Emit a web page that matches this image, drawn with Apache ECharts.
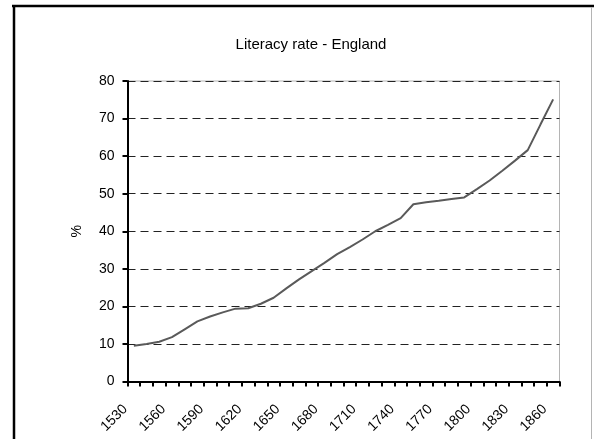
<!DOCTYPE html>
<html>
<head>
<meta charset="utf-8">
<script src="https://cdn.jsdelivr.net/npm/echarts@6/dist/echarts.min.js"></script>
<style>
  html, body { margin: 0; padding: 0; background: #fff; }
  #chart { width: 594px; height: 439px; }
</style>
</head>
<body>
<div id="chart"></div>
<script>
// Decades from 1530 to 1860
const decades = ['1530','1540','1550','1560','1570','1580','1590','1600','1610','1620',
  '1630','1640','1650','1660','1670','1680','1690','1700','1710','1720',
  '1730','1740','1750','1760','1770','1780','1790','1800','1810','1820',
  '1830','1840','1850','1860'];

// Share of the population able to read and write, in %
const literacy = [9.5, 10.0, 10.6, 11.8, 13.9, 16.0, 17.3, 18.4, 19.4, 19.5,
  20.7, 22.3, 24.8, 27.2, 29.4, 31.6, 33.9, 35.8, 37.8, 40.0,
  41.7, 43.5, 47.2, 47.7, 48.1, 48.6, 49.0, 51.2, 53.5, 56.1,
  58.8, 61.6, 68.4, 75.1];

const yTicks = [0, 10, 20, 30, 40, 50, 60, 70, 80];

const font = '"Liberation Sans", Arial, sans-serif';
const chart = echarts.init(document.getElementById('chart'), null, { renderer: 'canvas' });

chart.setOption({
  animation: false,
  backgroundColor: '#ffffff',
  title: {
    text: 'Literacy rate - England',
    left: 311,
    top: 37,
    textAlign: 'center',
    padding: 0,
    textStyle: { fontFamily: font, fontSize: 15, fontWeight: 'normal', color: '#000' }
  },
  grid: {
    left: 127.5, right: 34.5, top: 81, bottom: 57.5,
    show: true, borderColor: '#b4b4b4', borderWidth: 1, backgroundColor: 'transparent'
  },
  xAxis: {
    type: 'category',
    data: decades,
    boundaryGap: true,
    axisLine: { lineStyle: { color: '#000', width: 2 } },
    axisTick: { show: true, interval: 0, length: 5, lineStyle: { color: '#000', width: 2 } },
    axisLabel: {
      interval: 2,
      rotate: 45,
      margin: 17,
      padding: [0, 12, 0, 0],
      fontFamily: font, fontSize: 14, color: '#000'
    },
    splitLine: { show: false }
  },
  yAxis: {
    type: 'value',
    min: yTicks[0],
    max: yTicks[yTicks.length - 1],
    interval: 10,
    name: '%',
    nameLocation: 'middle',
    nameGap: 43,
    nameTextStyle: { fontFamily: font, fontSize: 14, color: '#000' },
    axisLine: { show: true, lineStyle: { color: '#000', width: 2 } },
    axisTick: { show: true, length: 5, lineStyle: { color: '#000', width: 2 } },
    axisLabel: { margin: 13, fontFamily: font, fontSize: 14, color: '#000' },
    splitLine: { show: true, lineStyle: { color: '#222', width: 1, type: [8, 5] } }
  },
  series: [{
    type: 'line',
    data: literacy,
    showSymbol: false,
    smooth: false,
    lineStyle: { color: '#5a5a5a', width: 2 },
    z: 5
  }],
  graphic: [
    { type: 'line', shape: { x1: 12, y1: 6, x2: 594, y2: 6 }, style: { stroke: '#000', lineWidth: 2.5 } },
    { type: 'line', shape: { x1: 14, y1: 5, x2: 14, y2: 439 }, style: { stroke: '#000', lineWidth: 2.5 } },
    { type: 'line', shape: { x1: 591.5, y1: 7, x2: 591.5, y2: 439 }, style: { stroke: '#b4b4b4', lineWidth: 1 } }
  ]
});
</script>
</body>
</html>
